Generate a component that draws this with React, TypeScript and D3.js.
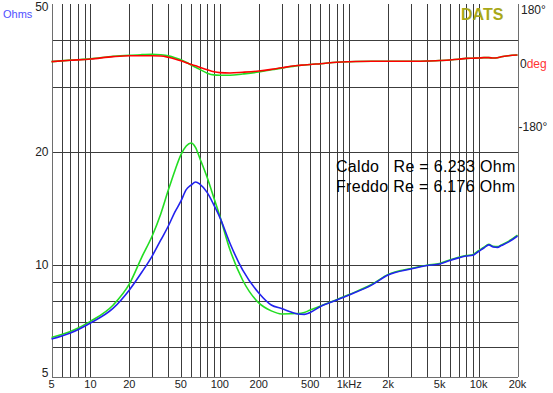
import React from 'react';
import * as d3 from 'd3';

// frequency points (Hz)
const freqs = [5, 7, 10, 15, 20, 25, 30, 35, 40, 45, 50, 55, 60, 65, 70, 80, 90, 100, 120, 150,
  200, 250, 300, 400, 450, 500, 600, 800, 1000, 1500, 2000, 3000, 4000, 5000, 6000, 7000, 8000, 9000, 10000, 11000,
  12000, 13000, 14000, 15000, 17000, 20000];

// impedance (Ohm) - green trace
const caldoZ = [6.38, 6.62, 7.05, 7.8, 8.88, 10.5, 11.94, 13.7, 15.85, 17.9, 19.7, 20.8, 21.2, 20.6, 19.3, 17.1, 15.1, 13.5, 10.95, 9.1,
  7.9, 7.52, 7.38, 7.4, 7.45, 7.56, 7.75, 8.06, 8.32, 8.86, 9.42, 9.77, 9.97, 10.08, 10.3, 10.47, 10.58, 10.64, 10.9, 11.14,
  11.35, 11.2, 11.18, 11.3, 11.55, 12.0];

// impedance (Ohm) - blue trace
const freddoZ = [6.32, 6.56, 6.98, 7.65, 8.56, 9.56, 10.55, 11.65, 12.7, 13.85, 14.8, 15.9, 16.35, 16.66, 16.45, 15.6, 14.45, 13.4, 11.4, 9.68,
  8.4, 7.8, 7.63, 7.38, 7.36, 7.45, 7.73, 8.04, 8.3, 8.83, 9.38, 9.74, 9.95, 10.05, 10.27, 10.43, 10.55, 10.6, 10.85, 11.09,
  11.3, 11.16, 11.13, 11.26, 11.5, 11.94];

// phase (deg) - green trace
const caldoPhase = [4, 8, 11.5, 19, 22, 23.5, 24.5, 23, 20, 15, 9, 2, -5.6, -12, -18, -28.5, -33.5, -34.3, -34.6, -31,
  -25.3, -19, -14.5, -7.5, -5.5, -4, -2, 2, 3.5, 4.8, 4.8, 5, 5.6, 7, 8.5, 10.5, 13, 13.5, 14, 15,
  15, 14, 15, 17.5, 20.5, 22.5];

// phase (deg) - red trace
const freddoPhase = [3.9, 7.6, 11.2, 18, 20.5, 20.5, 20.3, 19.5, 16, 11.5, 6.5, 1, -4, -8, -12, -19, -24.5, -27, -28, -26,
  -22.5, -18, -13.5, -7, -5.5, -4, -2, 2, 3.5, 4.8, 4.8, 5, 5.6, 7, 8.5, 10.5, 13, 13.5, 14, 15,
  15, 14, 15, 17.5, 20.5, 22.5];

const xGrid = [6, 7, 8, 9, 10, 20, 30, 40, 50, 60, 70, 80, 90, 100, 200, 300, 400, 500, 600, 700, 800, 900,
  1000, 2000, 3000, 4000, 5000, 6000, 7000, 8000, 9000, 10000, 20000];
const yGrid = [6, 7, 8, 9, 10, 20, 30, 40];

const xTicks = [5, 10, 20, 50, 100, 200, 500, 1000, 2000, 5000, 10000, 20000];
const xTickLabels = ['5', '10', '20', '50', '100', '200', '500', '1kHz', '2k', '5k', '10k', '20k'];
const yTicks = [5, 10, 20, 50];
const phaseTicks = [180, -180];

const W = 553;
const H = 393;
const left = 51.5;
const right = 517.5;
const top = 4;
const bottom = 377;

const font = '"Liberation Sans", Arial, sans-serif';

export default function App() {
  const x = d3.scaleLog().domain([5, 20000]).range([left, right]);
  const y = d3.scaleLog().domain([5, 50]).range([bottom, top]);
  const yPh = d3.scaleLinear().domain([-180, 180]).range([127, -1]);

  const zLine = (vals: number[]) =>
    d3.line<number>()
      .x((_d, i) => x(freqs[i]))
      .y(d => y(d))
      .curve(d3.curveMonotoneX)(vals) || '';

  const phLine = (vals: number[]) =>
    d3.line<number>()
      .x((_d, i) => x(freqs[i]))
      .y(d => yPh(d))
      .curve(d3.curveMonotoneX)(vals) || '';

  const px = (v: number) => Math.round(v) + 0.5;

  return (
    <svg width={W} height={H} style={{ position: 'absolute', left: 0, top: 0, background: '#fff' }}
      fontFamily={font}>
      <rect x={0} y={0} width={W} height={H} fill="#fff" />

      {/* grid */}
      <g stroke="#3c3c3c" strokeWidth={1} shapeRendering="crispEdges">
        {xGrid.map(f => (
          <line key={'gx' + f} x1={px(x(f))} x2={px(x(f))} y1={top} y2={bottom} />
        ))}
        {yGrid.map(v => (
          <line key={'gy' + v} x1={left} x2={right} y1={px(y(v))} y2={px(y(v))} />
        ))}
      </g>

      {/* axes */}
      <g stroke="#6e6e6e" strokeWidth={1} shapeRendering="crispEdges">
        <line x1={px(left)} x2={px(left)} y1={top} y2={bottom} />
        <line x1={left} x2={right + 0.5} y1={px(bottom)} y2={px(bottom)} />
        <line x1={px(right)} x2={px(right)} y1={top} y2={bottom} />
      </g>

      {/* phase traces */}
      <path d={phLine(caldoPhase)} fill="none" stroke="#22dd22" strokeWidth={1.6} />
      <path d={phLine(freddoPhase)} fill="none" stroke="#ff0000" strokeWidth={1.6} />

      {/* impedance traces */}
      <path d={zLine(caldoZ)} fill="none" stroke="#22dd22" strokeWidth={1.6} />
      <path d={zLine(freddoZ)} fill="none" stroke="#2222ee" strokeWidth={1.6} />

      {/* y tick labels */}
      {yTicks.map(v => {
        let yy = y(v) + 4;
        if (v === 50) yy = 11;
        if (v === 5) yy = bottom;
        return (
          <text key={'yl' + v} x={left - 3} y={yy} textAnchor="end" fontSize={12} fill="#222">{v}</text>
        );
      })}

      {/* x tick labels */}
      {xTicks.map((f, i) => (
        <text key={'xl' + f} x={x(f)} y={388} textAnchor="middle" fontSize={11} fill="#222">{xTickLabels[i]}</text>
      ))}

      {/* phase labels */}
      {phaseTicks.map(v => (
        <text key={'pl' + v} x={v > 0 ? 521 : 518.5} y={Math.max(yPh(v), 10) + 4} fontSize={12} fill="#222">
          {`${v}°`}
        </text>
      ))}
      <text x={520} y={yPh(0) + 4.5} fontSize={12}>
        <tspan fill="#222">0</tspan>
        <tspan fill="#ff3333">deg</tspan>
      </text>

      <text x={3} y={18} fontSize={11} fill="#5050ff">Ohms</text>
      <text x={461} y={20} fontSize={16} fontWeight="bold" fill="#a8a818">DATS</text>

      <text x={336} y={172} fontSize={16} letterSpacing={0.3} fill="#000" style={{ whiteSpace: 'pre' }}>Caldo   Re = 6.233 Ohm</text>
      <text x={336} y={192} fontSize={16} letterSpacing={0.3} fill="#000" style={{ whiteSpace: 'pre' }}>Freddo Re = 6.176 Ohm</text>
    </svg>
  );
}
